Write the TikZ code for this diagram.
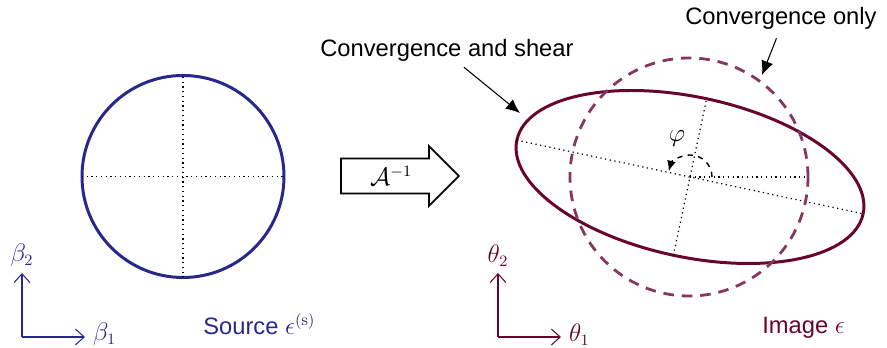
\documentclass[tikz,border=0pt]{standalone}
\usepackage{fontspec}
\setsansfont{Liberation Sans}
\usepackage{tikz}
\usetikzlibrary{arrows.meta, shapes.arrows, positioning, calc}

\definecolor{srcblue}{RGB}{40,40,140}
\definecolor{imgred}{RGB}{105,5,45}
\definecolor{convred}{RGB}{135,55,95}

\tikzset{
  axis/.style={line width=0.6pt, -{Straight Barb[length=5pt,width=9pt]}},
  pointer/.style={line width=0.6pt, -{Latex[length=8pt,width=7pt]}},
  lbl/.style={inner sep=0pt},
  guide/.style={dotted, line width=0.7pt},
  maparrow/.style={single arrow, draw, line width=1pt, minimum height=2.36cm,
    minimum width=1.2cm, single arrow head extend=0.2cm,
    single arrow tip angle=90, inner sep=2pt}
}

\begin{document}
\begin{tikzpicture}[font=\fontsize{13.5}{16}\selectfont\sffamily]
  \useasboundingbox (0,0) rectangle (17.74,6.96);

  % Source plane: circle and its axes
  \draw[srcblue, line width=1.7pt] (3.66,3.43) circle (2.02);
  \draw[guide] (1.64,3.43) -- (5.68,3.43);
  \draw[guide] (3.66,1.41) -- (3.66,5.45);

  \coordinate (so) at (0.44,0.22);
  \draw[axis, srcblue] (so) -- ++(1.26,0) node[right=1pt, yshift=1.5pt] (b1) {$\beta_1$};
  \draw[axis, srcblue] (so) -- ++(0,1.28) node[above=0pt] (b2) {$\beta_2$};
  \node[lbl, anchor=base west, text=srcblue] (srclbl) at (4.06,0.26) {Source $\epsilon^{(\mathrm{s})}$};

  % Lens mapping
  \node[maparrow, anchor=tail] (map) at (6.80,3.44) {$\mathcal{A}^{-1}$};

  % Image plane: sheared ellipse
  \begin{scope}[shift={(13.80,3.42)}, rotate=-12]
    \draw[imgred, line width=1.7pt] (0,0) ellipse (3.54 and 1.60);
    \draw[guide] (-3.54,0) -- (3.54,0);
    \draw[guide] (0,-1.60) -- (0,1.60);
  \end{scope}

  % Convergence only
  \draw[convred, line width=1.6pt, dash pattern=on 6pt off 4.5pt] (13.78,3.42) circle (2.38);
  \draw[guide] (13.80,3.42) -- (16.16,3.42);

  % Orientation angle
  \draw[dashed, line width=0.8pt, -{Latex[length=6pt,width=5pt]}]
    (14.24,3.42) arc[start angle=0, end angle=165, radius=0.44];
  \node (phi) at (13.54,4.18) {$\varphi$};

  \coordinate (io) at (9.96,0.22);
  \draw[axis, imgred] (io) -- ++(1.26,0) node[right=1pt, yshift=1.5pt] (t1) {$\theta_1$};
  \draw[axis, imgred] (io) -- ++(0,1.28) node[above=0pt] (t2) {$\theta_2$};
  \node[lbl, anchor=base west, text=imgred] (imglbl) at (15.24,0.28) {Image $\epsilon$};

  % Callouts
  \node[lbl, anchor=base west] (shearlbl) at (6.40,5.82) {Convergence and shear};
  \node[lbl, anchor=base west] (convlbl) at (13.70,6.46) {Convergence only};
  \coordinate (sheartip) at (10.40,4.70);
  \coordinate (convtip) at (15.24,5.46);
  \draw[pointer] ([xshift=0.34cm, yshift=-0.1cm]shearlbl.south) -- (sheartip);
  \draw[pointer] ([xshift=-0.09cm, yshift=-0.16cm]convlbl.south) -- (convtip);
\end{tikzpicture}
\end{document}
